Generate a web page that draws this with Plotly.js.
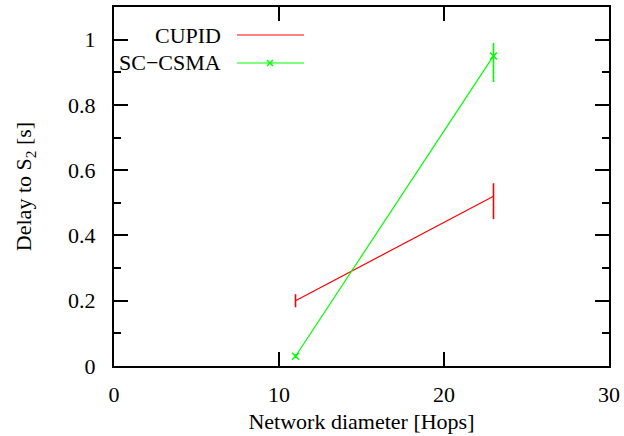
<!DOCTYPE html>
<html>
<head>
<meta charset="utf-8">
<script src="https://cdn.plot.ly/plotly-3.0.1.min.js"></script>
<style>html,body{margin:0;padding:0;background:#fff;}#chart{width:624px;height:436px;}</style>
</head>
<body>
<div id="chart"></div>
<script>
// Data
const hops = [11, 23];
const cupidDelay = [0.20, 0.52];
const cupidErrPlus = [0.02, 0.04];
const cupidErrMinus = [0.02, 0.07];
const scDelay = [0.03, 0.95];
const scErrPlus = [0.006, 0.04];
const scErrMinus = [0.006, 0.08];
const seriesNames = ['CUPID', 'SC\u2212CSMA'];
const xTicks = [0, 10, 20, 30];
const yTicks = [0, 0.2, 0.4, 0.6, 0.8, 1];
const yTickText = ['0', '0.2', '0.4', '0.6', '0.8', '1'];

const red = '#ff0000', green = '#00ff00';
const serif = '"Times New Roman", "Liberation Serif", Times, serif';

const traces = [
  {
    x: hops, y: cupidDelay, type: 'scatter', mode: 'lines', name: seriesNames[0],
    line: {color: red, width: 1.2},
    error_y: {type: 'data', array: cupidErrPlus, arrayminus: cupidErrMinus, symmetric: false,
              color: red, thickness: 1.6, width: 0}
  },
  {
    x: hops, y: scDelay, type: 'scatter', mode: 'lines+markers', name: seriesNames[1],
    line: {color: green, width: 1.2},
    marker: {symbol: 'x-thin', size: 7, color: green, line: {color: green, width: 1.5}},
    error_y: {type: 'data', array: scErrPlus, arrayminus: scErrMinus, symmetric: false,
              color: green, thickness: 1.6, width: 0}
  }
];

// manual gnuplot-style legend (paper coords)
const L = 114, R = 609, T = 7, B = 366;
const px = v => (v - L) / (R - L);
const py = v => (B - v) / (B - T);
const legY = [35, 63];
const legColors = [red, green];
const annotations = [];
const shapes = [];
for (let i = 0; i < 2; i++) {
  annotations.push({xref: 'paper', yref: 'paper', x: px(223), y: py(legY[i]), xanchor: 'right', yanchor: 'middle',
    text: seriesNames[i], showarrow: false, font: {family: serif, size: 22, color: '#000'}});
  shapes.push({type: 'line', xref: 'paper', yref: 'paper', x0: px(237), x1: px(304), y0: py(legY[i]), y1: py(legY[i]),
    line: {color: legColors[i], width: 1.2}});
}
// legend cross marker for SC-CSMA
const mx = 270, my = legY[1], d = 3;
shapes.push({type: 'line', xref: 'paper', yref: 'paper', x0: px(mx - d), x1: px(mx + d), y0: py(my - d), y1: py(my + d), line: {color: green, width: 1.5}});
shapes.push({type: 'line', xref: 'paper', yref: 'paper', x0: px(mx - d), x1: px(mx + d), y0: py(my + d), y1: py(my - d), line: {color: green, width: 1.5}});

const layout = {
  width: 624, height: 436,
  margin: {l: L, r: 624 - R, t: T, b: 436 - B},
  paper_bgcolor: '#fff', plot_bgcolor: '#fff',
  showlegend: false,
  font: {family: serif, size: 22, color: '#000'},
  xaxis: {
    range: [0, 30], tickvals: xTicks, ticktext: xTicks.map(String),
    showgrid: false, zeroline: false, showline: true, linecolor: '#000', linewidth: 2, mirror: 'ticks',
    ticks: 'inside', ticklen: 14, tickwidth: 2, tickcolor: '#000',
    ticklabelstandoff: 8,
    tickfont: {family: serif, size: 22},
    title: {text: 'Network diameter [Hops]', font: {family: serif, size: 22}, standoff: 7}
  },
  yaxis: {
    range: [0, 1.1], tickvals: yTicks, ticktext: yTickText,
    showgrid: false, zeroline: false, showline: true, linecolor: '#000', linewidth: 2, mirror: 'ticks',
    ticks: 'inside', ticklen: 14, tickwidth: 2, tickcolor: '#000',
    minor: {dtick: 0.1, tick0: 0, ticks: 'inside', ticklen: 7, tickwidth: 2, tickcolor: '#000', showgrid: false},
    ticklabelstandoff: 12,
    tickfont: {family: serif, size: 22},
    title: {text: 'Delay to S<sub>2</sub> [s]', font: {family: serif, size: 22}, standoff: 30}
  },
  annotations: annotations,
  shapes: shapes
};

Plotly.newPlot('chart', traces, layout, {displayModeBar: false, staticPlot: true});
</script>
</body>
</html>
